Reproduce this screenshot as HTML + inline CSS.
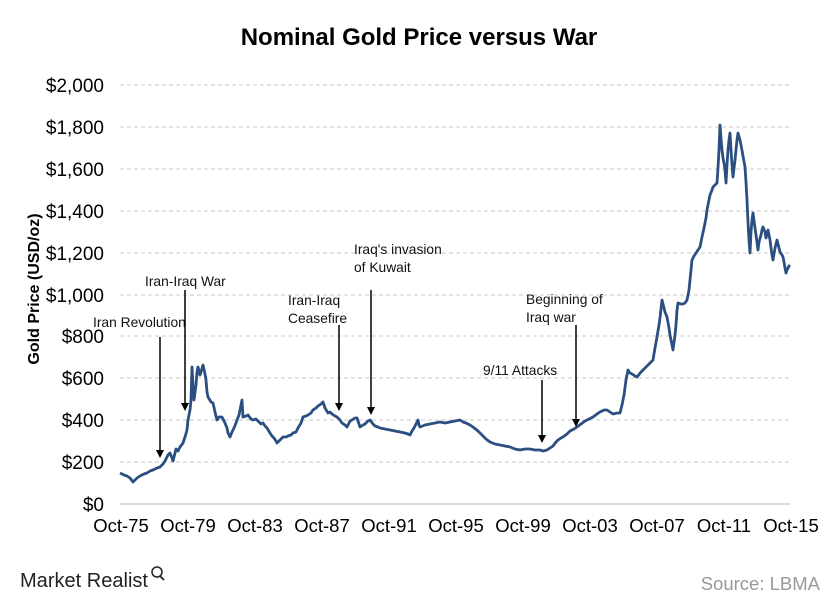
<!DOCTYPE html>
<html><head><meta charset="utf-8"><style>
body{margin:0;background:#fff;}
svg{display:block;font-family:"Liberation Sans",sans-serif;}
</style></head><body>
<svg width="840" height="602" viewBox="0 0 840 602">
<text x="419" y="45" text-anchor="middle" font-size="24" font-weight="bold">Nominal Gold Price versus War</text>
<g stroke="#c8c8c8" stroke-width="1" stroke-dasharray="4,3">
<line x1="120" x2="790" y1="85" y2="85"/><line x1="120" x2="790" y1="127" y2="127"/>
<line x1="120" x2="790" y1="169" y2="169"/><line x1="120" x2="790" y1="211" y2="211"/>
<line x1="120" x2="790" y1="253" y2="253"/><line x1="120" x2="790" y1="295" y2="295"/>
<line x1="120" x2="790" y1="336" y2="336"/><line x1="120" x2="790" y1="378" y2="378"/>
<line x1="120" x2="790" y1="420" y2="420"/><line x1="120" x2="790" y1="462" y2="462"/>
</g>
<line x1="120" x2="790" y1="504" y2="504" stroke="#bbb" stroke-width="1"/>
<g font-size="19" text-anchor="end">
<text x="104" y="92">$2,000</text><text x="104" y="134">$1,800</text><text x="104" y="176">$1,600</text>
<text x="104" y="218">$1,400</text><text x="104" y="260">$1,200</text><text x="104" y="302">$1,000</text>
<text x="104" y="343">$800</text><text x="104" y="385">$600</text><text x="104" y="427">$400</text>
<text x="104" y="469">$200</text><text x="104" y="511">$0</text>
</g>
<text transform="translate(39,289) rotate(-90)" text-anchor="middle" font-size="16" font-weight="bold">Gold Price (USD/oz)</text>
<g font-size="18.5" text-anchor="middle">
<text x="121" y="532">Oct-75</text><text x="188" y="532">Oct-79</text><text x="255" y="532">Oct-83</text>
<text x="322" y="532">Oct-87</text><text x="389" y="532">Oct-91</text><text x="456" y="532">Oct-95</text>
<text x="523" y="532">Oct-99</text><text x="590" y="532">Oct-03</text><text x="657" y="532">Oct-07</text>
<text x="724" y="532">Oct-11</text><text x="791" y="532">Oct-15</text>
</g>
<polyline fill="none" stroke="#2b4f80" stroke-width="2.8" stroke-linejoin="round" points="120,473 124,475 127,476 130,478 133,482 137,478 140,476 144,474 147,473 150,471 153,470 157,468 160,467 163,464 165,461 168,455 170,453 172,458 173,461 176,449 178,451 180,447 183,443 185,437 187,430 188,420 190,410 191,400 192,367 193,385 194,400 196,385 197,372 198,367 200,375 201,372 203,365 205,374 206,380 207,392 208,397 211,402 213,403 215,412 217,420 219,417 222,417 225,423 227,428 228,433 230,437 232,432 234,428 236,423 237,420 239,415 240,410 242,400 243,417 246,416 248,415 251,419 253,420 256,419 258,421 261,424 263,423 265,426 267,428 270,433 272,436 274,438 276,441 277,443 280,440 283,437 286,437 288,436 291,435 293,433 296,432 298,428 301,423 303,417 306,416 308,415 311,413 313,410 316,408 318,406 321,404 323,402 325,408 328,413 330,412 332,414 335,416 337,417 340,420 342,423 345,425 347,427 350,421 352,420 355,418 357,418 359,424 360,427 363,425 365,424 368,421 370,420 373,424 375,426 378,427 380,428 385,429 390,430 395,431 400,432 405,433 408,434 410,435 412,431 414,428 416,424 418,420 419,425 420,427 425,425 430,424 435,423 440,422 445,423 450,422 455,421 460,420 463,422 466,423 470,425 473,427 478,431 482,435 486,439 490,442 495,444 500,445 505,446 510,447 515,449 520,450 525,449 530,449 535,450 540,450 543,451 547,450 550,448 553,446 556,442 558,440 561,438 563,437 567,434 570,431 574,429 577,427 581,424 585,421 589,419 593,417 597,414 600,412 604,410 607,410 610,412 613,414 617,413 620,413 622,405 624,395 626,380 628,370 630,373 632,374 635,376 637,377 641,372 645,368 649,364 653,360 655,348 657,337 659,325 660,318 662,300 664,308 665,312 667,317 669,328 670,335 672,345 673,350 675,335 676,325 677,310 678,303 681,304 683,304 685,303 687,300 689,290 690,280 692,260 694,256 696,253 698,250 700,247 702,237 704,228 706,218 707,210 709,200 710,195 712,190 713,187 715,185 717,183 718,168 719,150 720,125 721,138 722,150 723,158 724,163 725,170 726,183 727,165 728,150 729,140 730,133 731,150 732,165 733,177 735,160 736,150 737,140 738,133 740,140 741,145 743,156 745,167 746,182 747,200 748,222 749,240 750,253 751,232 752,220 753,213 755,228 756,235 758,250 759,242 761,235 762,230 763,227 765,232 766,238 767,234 768,230 770,240 771,248 772,255 773,260 774,254 775,248 776,244 777,240 779,248 780,252 782,255 783,257 784,262 785,268 786,273 787,270 788,268 789,266 790,265"/>
<g font-size="13.8" fill="#111">
<text x="93" y="327">Iran Revolution</text>
<text x="145" y="286">Iran-Iraq War</text>
<text x="288" y="305">Iran-Iraq</text><text x="288" y="323">Ceasefire</text>
<text x="354" y="254">Iraq's invasion</text><text x="354" y="272">of Kuwait</text>
<text x="483" y="375">9/11 Attacks</text>
<text x="526" y="304">Beginning of</text><text x="526" y="322">Iraq war</text>
</g>
<g stroke="#000" stroke-width="1.5">
<line x1="160" y1="337" x2="160" y2="450"/><line x1="185" y1="290" x2="185" y2="403"/>
<line x1="339" y1="325" x2="339" y2="403"/><line x1="371" y1="290" x2="371" y2="407"/>
<line x1="542" y1="380" x2="542" y2="435"/><line x1="576" y1="325" x2="576" y2="419"/>
</g>
<g fill="#000">
<polygon points="156,450 164,450 160,458"/><polygon points="181,403 189,403 185,411"/>
<polygon points="335,403 343,403 339,411"/><polygon points="367,407 375,407 371,415"/>
<polygon points="538,435 546,435 542,443"/><polygon points="572,419 580,419 576,427"/>
</g>
<text x="20" y="587" font-size="20" fill="#222" textLength="128" lengthAdjust="spacingAndGlyphs">Market Realist</text>
<circle cx="157" cy="572" r="5" fill="none" stroke="#222" stroke-width="1.5"/>
<line x1="160" y1="576" x2="164" y2="580" stroke="#222" stroke-width="1.8"/>
<text x="820" y="590" font-size="18.5" fill="#999" text-anchor="end">Source: LBMA</text>
</svg>
</body></html>
